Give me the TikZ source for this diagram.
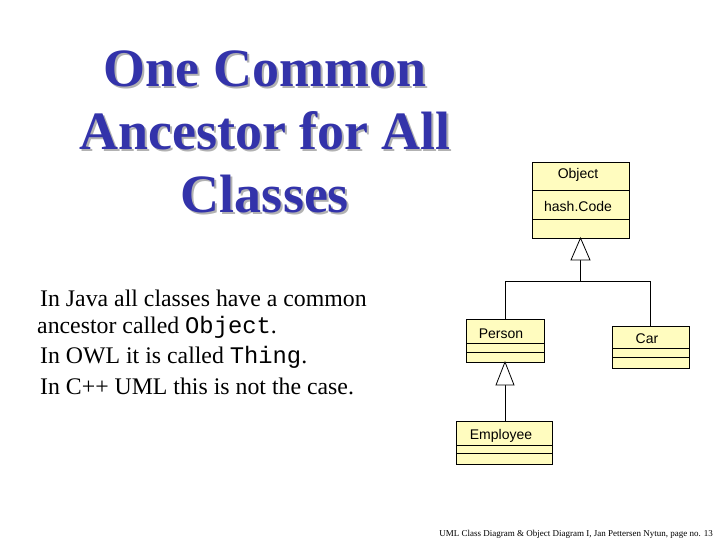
\documentclass[tikz,border=0pt]{standalone}
\usepackage{fontspec}
\setmainfont{Liberation Serif}[BoldFont={Liberation Serif Bold}]
\setsansfont{Liberation Sans}
\setmonofont{Liberation Mono}
\newfontfamily\ttlfont{Liberation Serif Bold}
\begin{document}
\begin{tikzpicture}[x=1pt,y=-1pt,
  cls/.style={draw=black,fill=yellow!25!white,line width=0.8pt},
  lbl/.style={font=\sffamily\fontsize{14}{16}\selectfont,inner sep=0pt},
  ln/.style={line width=0.8pt},
  tri/.style={draw,fill=white,line width=0.8pt},
  ttl/.style={font=\ttlfont\fontsize{54}{63}\selectfont,align=center,inner sep=0pt},
  body/.style={font=\fontsize{23.8}{28.5}\selectfont,anchor=base west,inner sep=0pt}]
\useasboundingbox[fill=white] (0,0) rectangle (720,540);
% title
\node[ttl,text=black!30] (tshadow) at (267,133.5) {One Common\\Ancestor for All\\Classes};
\node[ttl,text={rgb,255:red,51;green,51;blue,170}] (title) at (265,131.5) {One Common\\Ancestor for All\\Classes};
% body
\node[body] (b1) at (40,306) {In Java all classes have a common};
\node[body] (b2) at (37,333) {ancestor called \texttt{Object}.};
\node[body] (b3) at (40,363) {In OWL it is called \texttt{Thing}.};
\node[body] (b4) at (40,394) {In C++ UML this is not the case.};
% classes
\draw[cls] (532,162) rectangle (629,238);
\draw[ln] (532,190) -- (629,190) (532,219) -- (629,219);
\node[lbl] (obj) at (578,175) {Object};
\node[lbl] (hash) at (578,206) {hash.Code};
\draw[cls] (466,319) rectangle (544,362);
\draw[ln] (466,343) -- (544,343) (466,352) -- (544,352);
\node[lbl] (person) at (501,334) {Person};
\draw[cls] (612,326) rectangle (689,368);
\draw[ln] (612,348) -- (689,348) (612,357) -- (689,357);
\node[lbl] (car) at (647,339) {Car};
\draw[cls] (456,421) rectangle (552,464);
\draw[ln] (456,445) -- (552,445) (456,453) -- (552,453);
\node[lbl] (emp) at (501,436) {Employee};
% generalisations
\coordinate (j1) at (580.5,281);
\draw[ln] (580.5,260) -- (j1);
\draw[ln] (505,319) -- (505,281) -- (650,281) -- (650,326);
\draw[tri] (580.5,238) -- (571,260) -- (590,260) -- cycle;
\draw[ln] (505,385) -- (505,421);
\draw[tri] (505,362) -- (496,385) -- (514,385) -- cycle;
% footer
\node[font=\fontsize{9}{10}\selectfont,anchor=base east,inner sep=0pt] (foot) at (713,536) {UML Class Diagram \& Object Diagram I, Jan Pettersen Nytun, page no. 13};
\end{tikzpicture}
\end{document}
